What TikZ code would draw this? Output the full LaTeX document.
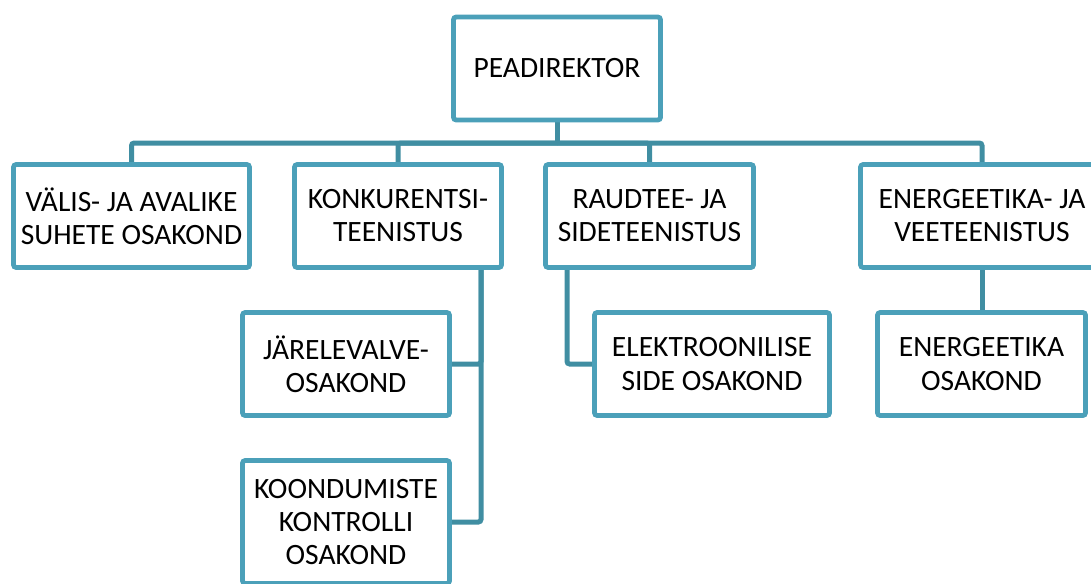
\documentclass[tikz,border=0pt]{standalone}
\usepackage{fontspec}
\setmainfont{Carlito}
\usepackage{xcolor}
\usepackage{tikz}
\usetikzlibrary{positioning, backgrounds}

\definecolor{boxteal}{RGB}{75,160,185}
\definecolor{lineteal}{RGB}{64,142,162}

\begin{document}
\begin{tikzpicture}[
  x=0.02cm, y=-0.02cm,
  unit/.style={
    rectangle,
    draw=boxteal,
    fill=white,
    line width=0.095cm,
    rounded corners=1.5pt,
    minimum width=#1*0.02cm,
    minimum height=2.06cm,
    inner sep=0pt,
    font=\fontsize{16.8}{18.8}\selectfont,
    align=center
  },
  unit/.default=207,
  link/.style={
    draw=lineteal,
    line width=0.1cm,
    rounded corners=1.5pt
  }
]
\clip (0,0) rectangle (1091,583);

% Top
\node[unit] (pd) at (557,68.5) {PEADIREKTOR};

% Services
\node[unit=236] (valis) at (131.5,216) {VÄLIS- JA AVALIKE\\SUHETE OSAKOND};
\node[unit] (konk) at (398,216) {KONKURENTSI-\\TEENISTUS};
\node[unit=208] (raud) at (649.5,216) {RAUDTEE- JA\\SIDETEENISTUS};
\node[unit=243] (ener) at (982,216) {ENERGEETIKA- JA\\VEETEENISTUS};

% Departments
\node[unit] (jarel) at (346,364) {JÄRELEVALVE-\\OSAKOND};
\node[unit, minimum height=2.46cm] (koond) at (346,522) {KOONDUMISTE\\KONTROLLI\\OSAKOND};
\node[unit=235] (elek) at (712,364) {ELEKTROONILISE\\SIDE OSAKOND};
\node[unit=208] (eosak) at (981.5,364) {ENERGEETIKA\\OSAKOND};

% Connections
\coordinate (bus) at (557,143);
\coordinate (kv) at (481,270);
\coordinate (rv) at (567,270);

\begin{scope}[on background layer]
\draw[link] (pd.south) -- (bus);
\draw[link] (bus) -| (valis.north);
\draw[link] (bus) -| (konk.north);
\draw[link] (bus) -| (raud.north);
\draw[link] (bus) -| (ener.north);

\draw[link] (kv) |- (jarel.east);
\draw[link] (kv) |- (koond.east);
\draw[link] (rv) |- (elek.west);
\draw[link] (ener.south) -- (ener.south |- eosak.north);
\end{scope}

\end{tikzpicture}
\end{document}
